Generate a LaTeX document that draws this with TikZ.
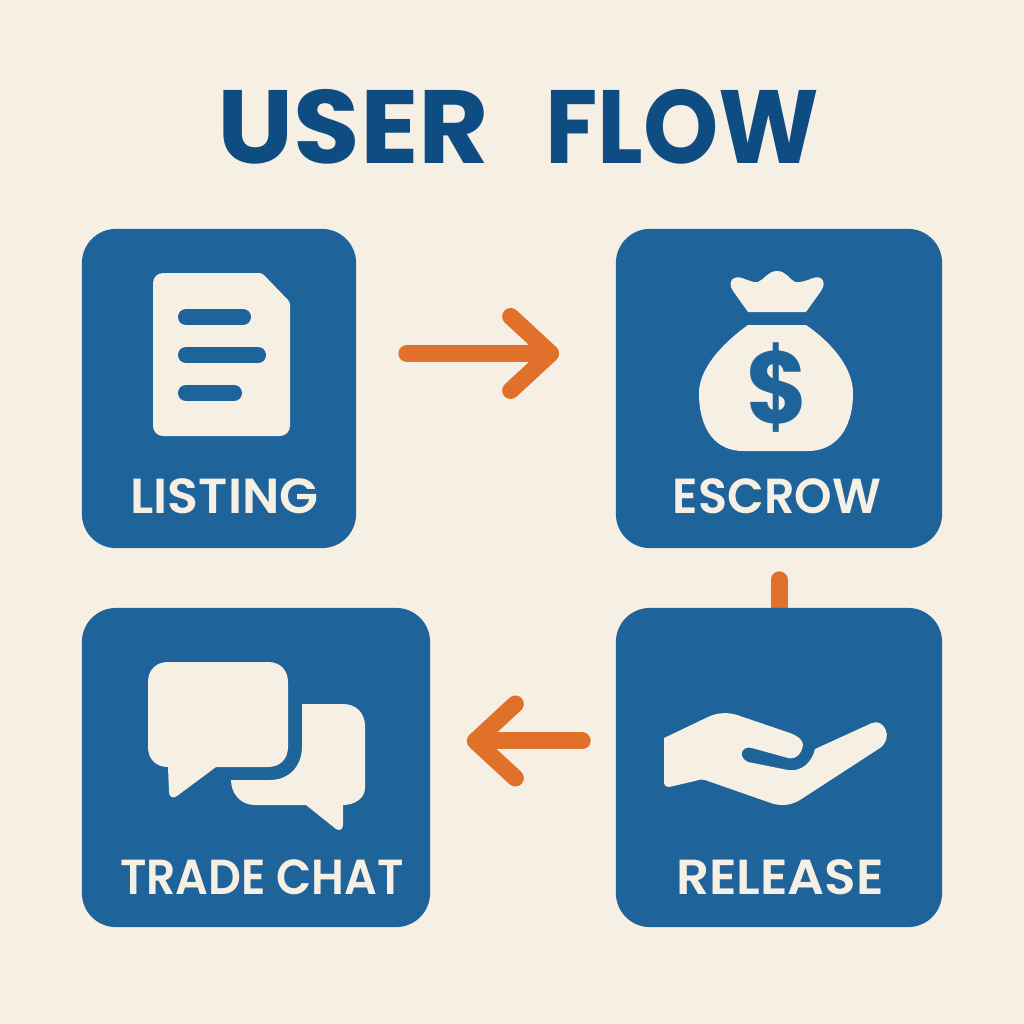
\documentclass[tikz,border=0pt]{standalone}
\usepackage{fontspec}
\setmainfont{Poppins}
\newfontfamily\captionfont{Poppins SemiBold}
\usetikzlibrary{arrows.meta,backgrounds}
\definecolor{cream}{HTML}{F6EFE4}
\definecolor{boxblue}{HTML}{1E6399}
\definecolor{titleblue}{HTML}{0F4C81}
\definecolor{flow}{HTML}{E0702A}
\tikzset{
    box/.style={rectangle, fill=boxblue, rounded corners=0.34cm, minimum height=3.19cm, inner sep=0pt},
    caption/.style={text=cream, inner sep=0pt, font=\captionfont\fontsize{14}{16}\selectfont},
    icon/.style={fill=cream},
    docline/.style={draw=boxblue, line width=0.16cm, line cap=round},
    flowline/.style={draw=flow, line width=0.17cm, line cap=round, -{Straight Barb[round, length=0.4cm, width=0.74cm]}},
}
\begin{document}
\begin{tikzpicture}[x=0.01cm, y=-0.01cm]
    \useasboundingbox (0, 0) rectangle (1024, 1024);

    % Nodes
    \node[inner sep=0pt, text=titleblue, font=\fontsize{29.6}{32}\selectfont\bfseries] at (518.5, 127) (title) {\scalebox{1.04}[1]{USER}\hspace{0.56cm}\scalebox{0.92}[1]{FLOW}};

    \node[box, minimum width=2.74cm] at (219, 388.5) (listing) {};
    \node[box, minimum width=3.26cm] at (779, 388.5) (escrow) {};
    \node[box, minimum width=3.48cm] at (256, 767.5) (chat) {};
    \node[box, minimum width=3.26cm] at (779, 767.5) (release) {};

    \node[caption] at (224.5, 496) (listinglabel) {\scalebox{1.03}[1]{LISTING}};
    \node[caption] at (777, 496) (escrowlabel) {\scalebox{0.97}[1]{ESCROW}};
    \node[caption] at (262, 877) (chatlabel) {\scalebox{0.93}[1]{TRADE CHAT}};
    \node[caption] at (780, 877) (releaselabel) {\scalebox{1.05}[1]{RELEASE}};

    % Document
    \fill[icon, rounded corners=0.1cm] (153, 273) [rounded corners=0.03cm] -- (262, 273) -- (290, 302) [rounded corners=0.1cm] -- (290, 436) -- (153, 436) -- cycle;
    \draw[docline] (186, 317) -- (243, 317);
    \draw[docline] (186, 355) -- (258, 355);
    \draw[docline] (186, 393) -- (234, 393);

    % Money bag
    \fill[icon] (748, 312) -- (733, 291) .. controls (727, 282) and (733, 275) .. (742, 278)
        .. controls (750, 281) and (755, 283) .. (758, 282) .. controls (765, 279) and (768, 271) .. (777, 271)
        .. controls (786, 271) and (789, 279) .. (795, 282) .. controls (799, 283) and (806, 281) .. (813, 278)
        .. controls (822, 275) and (827, 282) .. (821, 291) -- (806, 312) -- cycle;
    \fill[icon] (748, 325) -- (806, 325) .. controls (835, 345) and (853, 370) .. (853, 393)
        .. controls (853, 430) and (835, 451) .. (808, 451) -- (743, 451)
        .. controls (716, 451) and (699, 430) .. (699, 393) .. controls (699, 370) and (720, 345) .. (748, 325) -- cycle;
    \node[inner sep=0pt, text=boxblue, font=\fontsize{29}{32}\selectfont\bfseries] at (777, 388) (dollar) {\scalebox{0.92}[1]{\$}};

    % Speech bubbles
    \fill[icon] (168, 662) -- (268, 662) .. controls (280, 662) and (288, 670) .. (288, 682)
        -- (288, 747) .. controls (288, 759) and (280, 767) .. (268, 767) -- (216, 767)
        -- (177, 796) .. controls (173, 799) and (169, 797) .. (169, 792) -- (168, 767)
        .. controls (156, 767) and (148, 759) .. (148, 747) -- (148, 682)
        .. controls (148, 670) and (156, 662) .. (168, 662) -- cycle;
    \fill[icon] (302, 704) -- (343, 704) .. controls (356, 704) and (365, 713) .. (365, 726)
        -- (365, 788) .. controls (365, 798) and (355, 805) .. (343, 805) -- (343, 825)
        .. controls (343, 830) and (339, 831) .. (336, 829) -- (306, 805) -- (255, 805)
        .. controls (240, 805) and (231, 793) .. (231, 780) -- (270, 780)
        .. controls (290, 780) and (302, 765) .. (302, 747) -- cycle;

    % Hand
    \fill[icon] (664, 738) -- (708, 717) .. controls (718, 712) and (730, 712) .. (740, 716)
        -- (790, 733) .. controls (800, 737) and (803, 741) .. (803, 745)
        .. controls (802, 753) and (796, 760) .. (788, 758) -- (752, 748)
        .. controls (742, 745) and (737, 757) .. (748, 762) -- (788, 770)
        .. controls (802, 772) and (812, 762) .. (815, 749) -- (872, 723)
        .. controls (884, 718) and (894, 738) .. (880, 748) -- (803, 798)
        .. controls (792, 806) and (780, 807) .. (768, 802) -- (705, 780)
        .. controls (701, 779) and (698, 780) .. (695, 781) -- (669, 787)
        .. controls (666, 787) and (664, 786) .. (664, 783) -- cycle;

    % Connectors
    \draw[flowline, shorten <=0.5cm, shorten >=0.56cm] ([yshift=0.35cm] listing.east) -- ([yshift=0.35cm] escrow.west);
    \draw[flowline, shorten <=0.33cm, shorten >=0.36cm] ([yshift=0.265cm] release.west) -- ([yshift=0.265cm] chat.east);

    \begin{pgfonlayer}{background}
        \fill[cream] (0, 0) rectangle (1024, 1024);
        \draw[draw=flow, line width=0.17cm, line cap=round, shorten <=0.31cm] (escrow.south) -- (release.north);
    \end{pgfonlayer}
\end{tikzpicture}
\end{document}
